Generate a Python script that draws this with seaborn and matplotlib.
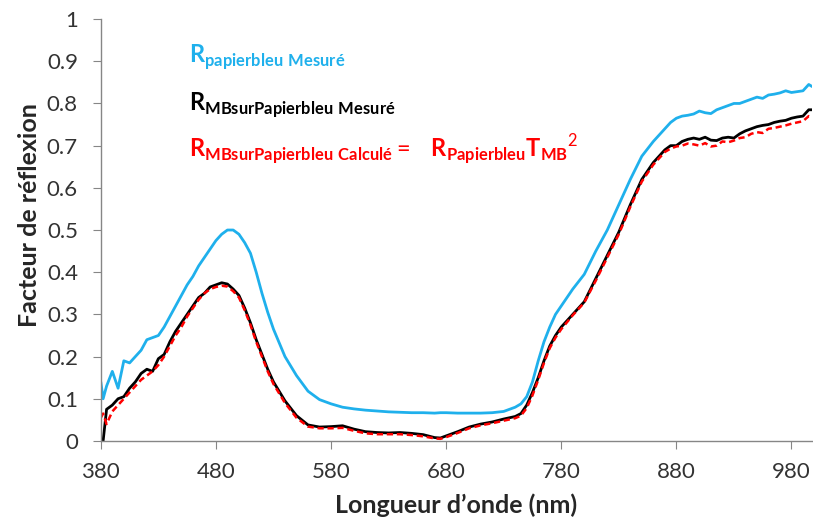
import numpy as np
import pandas as pd
import seaborn as sns
import matplotlib
import matplotlib.pyplot as plt

# wavelengths (nm)
wavelength = [380, 382, 385, 390, 395, 400, 405, 410, 415, 420, 425, 430, 435, 440, 445,
              450, 455, 460, 465, 470, 475, 480, 485, 490, 495, 500, 505, 510, 515, 520,
              525, 530, 540, 550, 560, 570, 580, 590, 600, 610, 620, 630, 640, 650, 660,
              670, 675, 680, 690, 700, 710, 720, 730, 740, 745, 750, 755, 760, 765, 770,
              775, 780, 790, 800, 810, 820, 830, 840, 850, 860, 865, 870, 875, 880, 885,
              890, 895, 900, 905, 910, 915, 920, 925, 930, 935, 940, 945, 950, 955, 960,
              965, 970, 975, 980, 985, 990, 995, 998]

# R papierbleu mesure
r_papier = [0.14, 0.10, 0.13, 0.165, 0.125, 0.19, 0.185, 0.20, 0.215, 0.24, 0.245, 0.25, 0.27, 0.295, 0.32,
            0.345, 0.37, 0.39, 0.415, 0.435, 0.455, 0.475, 0.49, 0.50, 0.50, 0.49, 0.47, 0.445, 0.40, 0.35,
            0.305, 0.265, 0.20, 0.155, 0.118, 0.098, 0.088, 0.08, 0.076, 0.073, 0.071, 0.069, 0.068, 0.067, 0.067,
            0.066, 0.067, 0.067, 0.066, 0.066, 0.066, 0.067, 0.070, 0.080, 0.088, 0.105, 0.14, 0.19, 0.235, 0.27,
            0.30, 0.32, 0.36, 0.395, 0.45, 0.50, 0.56, 0.62, 0.675, 0.71, 0.725, 0.74, 0.755, 0.765, 0.77,
            0.772, 0.775, 0.782, 0.778, 0.776, 0.785, 0.79, 0.795, 0.80, 0.80, 0.805, 0.81, 0.815, 0.812, 0.82,
            0.822, 0.825, 0.83, 0.826, 0.828, 0.83, 0.845, 0.84]

# R MB sur papierbleu mesure
r_mb_mes = [0.0, 0.0, 0.075, 0.085, 0.10, 0.105, 0.125, 0.14, 0.16, 0.17, 0.165, 0.195, 0.205, 0.235, 0.26,
            0.28, 0.30, 0.32, 0.34, 0.35, 0.365, 0.37, 0.375, 0.372, 0.36, 0.345, 0.315, 0.28, 0.24, 0.205,
            0.17, 0.14, 0.095, 0.06, 0.038, 0.033, 0.034, 0.036, 0.028, 0.022, 0.02, 0.019, 0.02, 0.018, 0.015,
            0.008, 0.007, 0.012, 0.022, 0.033, 0.04, 0.045, 0.052, 0.058, 0.065, 0.085, 0.115, 0.15, 0.19, 0.225,
            0.25, 0.27, 0.30, 0.33, 0.385, 0.44, 0.495, 0.56, 0.62, 0.66, 0.675, 0.69, 0.70, 0.70, 0.71,
            0.715, 0.718, 0.715, 0.72, 0.713, 0.712, 0.718, 0.72, 0.718, 0.728, 0.735, 0.74, 0.745, 0.748, 0.75,
            0.755, 0.758, 0.76, 0.765, 0.768, 0.77, 0.785, 0.785]

# R MB sur papierbleu calcule
r_mb_calc = [0.055, 0.065, 0.04, 0.07, 0.085, 0.10, 0.115, 0.13, 0.145, 0.155, 0.165, 0.18, 0.20, 0.225, 0.25,
             0.27, 0.295, 0.315, 0.335, 0.35, 0.36, 0.365, 0.368, 0.366, 0.355, 0.34, 0.31, 0.275, 0.235, 0.20,
             0.165, 0.135, 0.09, 0.055, 0.034, 0.03, 0.03, 0.031, 0.024, 0.018, 0.016, 0.016, 0.016, 0.014, 0.011,
             0.006, 0.005, 0.009, 0.019, 0.03, 0.037, 0.042, 0.048, 0.054, 0.06, 0.078, 0.108, 0.145, 0.185, 0.22,
             0.245, 0.265, 0.298, 0.328, 0.38, 0.435, 0.49, 0.555, 0.615, 0.655, 0.67, 0.685, 0.693, 0.698, 0.70,
             0.705, 0.703, 0.70, 0.706, 0.698, 0.70, 0.71, 0.708, 0.712, 0.718, 0.72, 0.728, 0.732, 0.73, 0.74,
             0.742, 0.745, 0.748, 0.752, 0.755, 0.758, 0.77, 0.768]

x_ticks = [380, 480, 580, 680, 780, 880, 980]
y_ticks = [0, 0.1, 0.2, 0.3, 0.4, 0.5, 0.6, 0.7, 0.8, 0.9, 1]
y_ticklabels = ['0', '0.1', '0.2', '0.3', '0.4', '0.5', '0.6', '0.7', '0.8', '0.9', '1']

blue = '#1FB0EC'
red = '#FF0000'
gray = '#868686'

sns.set_style('white')
plt.rcParams['font.family'] = ['Lato', 'DejaVu Sans']
plt.rcParams['mathtext.fontset'] = 'custom'
plt.rcParams['mathtext.rm'] = 'Lato'
plt.rcParams['mathtext.bf'] = 'Lato:bold'

df = pd.DataFrame({'wl': wavelength, 'papier': r_papier, 'mes': r_mb_mes, 'calc': r_mb_calc})

fig = plt.figure(figsize=(8.13, 5.30), dpi=100)
ax = fig.add_axes([0.124, 0.168, 0.875, 0.796])

sns.lineplot(data=df, x='wl', y='papier', color=blue, linewidth=2.0, ax=ax)
sns.lineplot(data=df, x='wl', y='mes', color='black', linewidth=2.0, ax=ax)
sns.lineplot(data=df, x='wl', y='calc', color=red, linewidth=1.8, linestyle=(0, (2.5, 1.5)), ax=ax)

ax.set_xlim(380, 998)
ax.set_ylim(0, 1)
ax.set_xticks(x_ticks)
ax.set_yticks(y_ticks)
ax.set_yticklabels(y_ticklabels)
ax.tick_params(axis='both', direction='out', length=5.5, color=gray, labelsize=16, labelcolor='#333333')
ax.tick_params(axis='y', pad=11)
ax.tick_params(axis='x', pad=10)
ax.tick_params(axis='both', which='both', bottom=True, left=True)
for s in ['top', 'right']:
    ax.spines[s].set_visible(False)
for s in ['left', 'bottom']:
    ax.spines[s].set_color(gray)
    ax.spines[s].set_linewidth(1.0)

ax.set_xlabel('Longueur d’onde (nm)', fontsize=18, fontweight='bold', labelpad=8)
ax.set_ylabel('Facteur de réflexion', fontsize=18, fontweight='bold')
ax.yaxis.set_label_coords(-0.084, 0.535)

ax.text(457, 0.91, r'$\mathbf{R}_{\mathbf{papierbleu\ Mesuré}}$', color=blue, fontsize=17, va='center')
ax.text(457, 0.796, r'$\mathbf{R}_{\mathbf{MBsurPapierbleu\ Mesuré}}$', color='black', fontsize=17, va='center')
ax.text(457, 0.69,
        r'$\mathbf{R}_{\mathbf{MBsurPapierbleu\ Calculé}}=\ \ \mathbf{R}_{\mathbf{Papierbleu}}\mathbf{T}_{\mathbf{MB}}{}^{\mathrm{2}}$',
        color=red, fontsize=17, va='center')

plt.savefig('out.png', dpi=100)
